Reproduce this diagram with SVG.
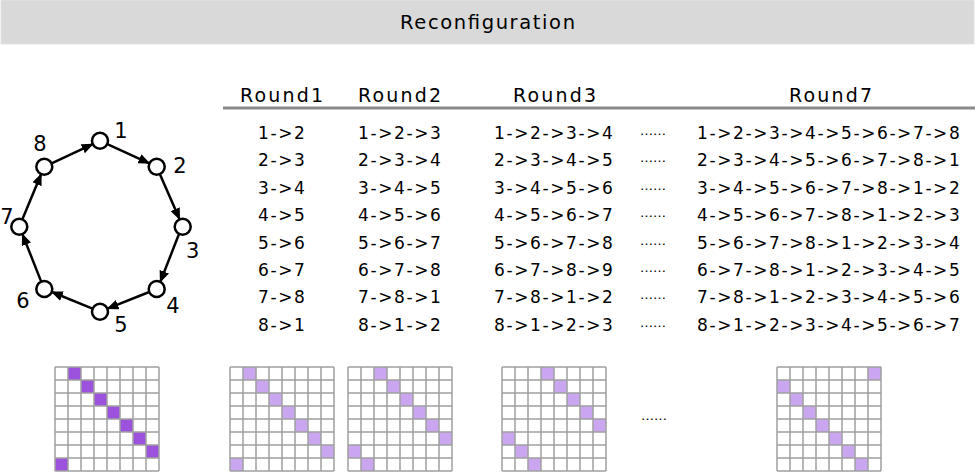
<svg xmlns="http://www.w3.org/2000/svg" xmlns:xlink="http://www.w3.org/1999/xlink" width="976" height="472" viewBox="0 0 976 472">
<style>
text{font-family:"DejaVu Sans",Verdana,sans-serif;fill:#000}
.title{font-size:19.5px}
.hd{font-size:19px}
.row{font-size:17px;letter-spacing:1.6px}
.dots{font-size:13px}
.lbl{font-size:21px;text-anchor:middle}
.node{fill:#fff;stroke:#000;stroke-width:2.5}
.edge{stroke:#000;stroke-width:2.5;fill:none;marker-end:url(#ah)}
.gl{stroke:#a0a0a0;stroke-width:1.5;fill:none}
.dk{fill:#9d52de}
.lt{fill:#caa6f0}
</style>
<defs>
<marker id="ah" viewBox="0 0 12 10" refX="11" refY="5" markerWidth="12" markerHeight="10" markerUnits="userSpaceOnUse" orient="auto">
<path d="M0 0L12 5L0 10z" fill="#000"/>
</marker>
<path id="gridlines" class="gl" d="M0 0V104M13 0V104M26 0V104M39 0V104M52 0V104M65 0V104M78 0V104M91 0V104M104 0V104M0 0H104M0 13H104M0 26H104M0 39H104M0 52H104M0 65H104M0 78H104M0 91H104M0 104H104"/>
</defs>
<rect width="976" height="472" fill="#fff"/>
<g id="header">
<rect x="1" y="0" width="973" height="44" fill="#d9d9d9" stroke="#e4e4e4" stroke-width="1"/>
<text class="title" x="400" y="29" textLength="175" lengthAdjust="spacing">Reconfiguration</text>
</g>
<g id="ring-edges">
<line class="edge" x1="107.3" y1="144.1" x2="149.4" y2="163.3"/>
<line class="edge" x1="159.8" y1="174.1" x2="179.6" y2="219.3"/>
<line class="edge" x1="179.1" y1="233.8" x2="160.3" y2="281.9"/>
<line class="edge" x1="149.2" y1="292" x2="107.5" y2="308.7"/>
<line class="edge" x1="92.5" y1="308.7" x2="51.8" y2="292"/>
<line class="edge" x1="41.2" y1="281.6" x2="22.4" y2="234.1"/>
<line class="edge" x1="22.4" y1="219.3" x2="41.2" y2="174.1"/>
<line class="edge" x1="51.6" y1="163.3" x2="92.7" y2="144.1"/>
</g>
<g id="ring-nodes">
<g id="n1"><circle class="node" cx="100" cy="140.7" r="8"/><text class="lbl" x="121" y="138">1</text></g>
<g id="n2"><circle class="node" cx="156.7" cy="166.7" r="8"/><text class="lbl" x="180" y="173">2</text></g>
<g id="n3"><circle class="node" cx="182.7" cy="226.7" r="8"/><text class="lbl" x="192.7" y="258">3</text></g>
<g id="n4"><circle class="node" cx="156.7" cy="289" r="8"/><text class="lbl" x="173" y="313">4</text></g>
<g id="n5"><circle class="node" cx="100" cy="311.7" r="8"/><text class="lbl" x="121" y="332">5</text></g>
<g id="n6"><circle class="node" cx="44.3" cy="289" r="8"/><text class="lbl" x="23" y="308">6</text></g>
<g id="n7"><circle class="node" cx="19.3" cy="226.7" r="8"/><text class="lbl" x="7" y="224">7</text></g>
<g id="n8"><circle class="node" cx="44.3" cy="166.7" r="8"/><text class="lbl" x="40" y="151">8</text></g>
</g>
<g id="table-header">
<text class="hd" x="240" y="102" textLength="83" lengthAdjust="spacing">Round1</text>
<text class="hd" x="358" y="102" textLength="83" lengthAdjust="spacing">Round2</text>
<text class="hd" x="513" y="102" textLength="83" lengthAdjust="spacing">Round3</text>
<text class="hd" x="789" y="102" textLength="83" lengthAdjust="spacing">Round7</text>
<line x1="223" y1="108" x2="975" y2="108" stroke="#8a8a8a" stroke-width="3"/>
</g>
<g id="col-round1">
<text class="row" x="258" y="139">1-&gt;2</text>
<text class="row" x="258" y="166.4">2-&gt;3</text>
<text class="row" x="258" y="193.8">3-&gt;4</text>
<text class="row" x="258" y="221.2">4-&gt;5</text>
<text class="row" x="258" y="248.6">5-&gt;6</text>
<text class="row" x="258" y="276">6-&gt;7</text>
<text class="row" x="258" y="303.4">7-&gt;8</text>
<text class="row" x="258" y="330.8">8-&gt;1</text>
</g>
<g id="col-round2">
<text class="row" x="358" y="139">1-&gt;2-&gt;3</text>
<text class="row" x="358" y="166.4">2-&gt;3-&gt;4</text>
<text class="row" x="358" y="193.8">3-&gt;4-&gt;5</text>
<text class="row" x="358" y="221.2">4-&gt;5-&gt;6</text>
<text class="row" x="358" y="248.6">5-&gt;6-&gt;7</text>
<text class="row" x="358" y="276">6-&gt;7-&gt;8</text>
<text class="row" x="358" y="303.4">7-&gt;8-&gt;1</text>
<text class="row" x="358" y="330.8">8-&gt;1-&gt;2</text>
</g>
<g id="col-round3">
<text class="row" x="494" y="139">1-&gt;2-&gt;3-&gt;4</text>
<text class="row" x="494" y="166.4">2-&gt;3-&gt;4-&gt;5</text>
<text class="row" x="494" y="193.8">3-&gt;4-&gt;5-&gt;6</text>
<text class="row" x="494" y="221.2">4-&gt;5-&gt;6-&gt;7</text>
<text class="row" x="494" y="248.6">5-&gt;6-&gt;7-&gt;8</text>
<text class="row" x="494" y="276">6-&gt;7-&gt;8-&gt;9</text>
<text class="row" x="494" y="303.4">7-&gt;8-&gt;1-&gt;2</text>
<text class="row" x="494" y="330.8">8-&gt;1-&gt;2-&gt;3</text>
</g>
<g id="col-dots">
<text class="dots" x="640" y="135">……</text>
<text class="dots" x="640" y="162.4">……</text>
<text class="dots" x="640" y="189.8">……</text>
<text class="dots" x="640" y="217.2">……</text>
<text class="dots" x="640" y="244.6">……</text>
<text class="dots" x="640" y="272">……</text>
<text class="dots" x="640" y="299.4">……</text>
<text class="dots" x="640" y="326.8">……</text>
</g>
<g id="col-round7">
<text class="row" x="697" y="139">1-&gt;2-&gt;3-&gt;4-&gt;5-&gt;6-&gt;7-&gt;8</text>
<text class="row" x="697" y="166.4">2-&gt;3-&gt;4-&gt;5-&gt;6-&gt;7-&gt;8-&gt;1</text>
<text class="row" x="697" y="193.8">3-&gt;4-&gt;5-&gt;6-&gt;7-&gt;8-&gt;1-&gt;2</text>
<text class="row" x="697" y="221.2">4-&gt;5-&gt;6-&gt;7-&gt;8-&gt;1-&gt;2-&gt;3</text>
<text class="row" x="697" y="248.6">5-&gt;6-&gt;7-&gt;8-&gt;1-&gt;2-&gt;3-&gt;4</text>
<text class="row" x="697" y="276">6-&gt;7-&gt;8-&gt;1-&gt;2-&gt;3-&gt;4-&gt;5</text>
<text class="row" x="697" y="303.4">7-&gt;8-&gt;1-&gt;2-&gt;3-&gt;4-&gt;5-&gt;6</text>
<text class="row" x="697" y="330.8">8-&gt;1-&gt;2-&gt;3-&gt;4-&gt;5-&gt;6-&gt;7</text>
</g>
<g id="grid1" transform="translate(55,367)">
<rect width="104" height="104" fill="#fff"/>
<rect class="dk" x="13" y="0" width="13" height="13"/><rect class="dk" x="26" y="13" width="13" height="13"/><rect class="dk" x="39" y="26" width="13" height="13"/><rect class="dk" x="52" y="39" width="13" height="13"/><rect class="dk" x="65" y="52" width="13" height="13"/><rect class="dk" x="78" y="65" width="13" height="13"/><rect class="dk" x="91" y="78" width="13" height="13"/><rect class="dk" x="0" y="91" width="13" height="13"/>
<use xlink:href="#gridlines"/>
</g>
<g id="grid2" transform="translate(230,367)">
<rect width="104" height="104" fill="#fff"/>
<rect class="lt" x="13" y="0" width="13" height="13"/><rect class="lt" x="26" y="13" width="13" height="13"/><rect class="lt" x="39" y="26" width="13" height="13"/><rect class="lt" x="52" y="39" width="13" height="13"/><rect class="lt" x="65" y="52" width="13" height="13"/><rect class="lt" x="78" y="65" width="13" height="13"/><rect class="lt" x="91" y="78" width="13" height="13"/><rect class="lt" x="0" y="91" width="13" height="13"/>
<use xlink:href="#gridlines"/>
</g>
<g id="grid3" transform="translate(348,367)">
<rect width="104" height="104" fill="#fff"/>
<rect class="lt" x="26" y="0" width="13" height="13"/><rect class="lt" x="39" y="13" width="13" height="13"/><rect class="lt" x="52" y="26" width="13" height="13"/><rect class="lt" x="65" y="39" width="13" height="13"/><rect class="lt" x="78" y="52" width="13" height="13"/><rect class="lt" x="91" y="65" width="13" height="13"/><rect class="lt" x="0" y="78" width="13" height="13"/><rect class="lt" x="13" y="91" width="13" height="13"/>
<use xlink:href="#gridlines"/>
</g>
<g id="grid4" transform="translate(502,367)">
<rect width="104" height="104" fill="#fff"/>
<rect class="lt" x="39" y="0" width="13" height="13"/><rect class="lt" x="52" y="13" width="13" height="13"/><rect class="lt" x="65" y="26" width="13" height="13"/><rect class="lt" x="78" y="39" width="13" height="13"/><rect class="lt" x="91" y="52" width="13" height="13"/><rect class="lt" x="0" y="65" width="13" height="13"/><rect class="lt" x="13" y="78" width="13" height="13"/><rect class="lt" x="26" y="91" width="13" height="13"/>
<use xlink:href="#gridlines"/>
</g>
<text id="grid-dots" class="dots" x="641" y="420">……</text>
<g id="grid5" transform="translate(777,367)">
<rect width="104" height="104" fill="#fff"/>
<rect class="lt" x="91" y="0" width="13" height="13"/><rect class="lt" x="0" y="13" width="13" height="13"/><rect class="lt" x="13" y="26" width="13" height="13"/><rect class="lt" x="26" y="39" width="13" height="13"/><rect class="lt" x="39" y="52" width="13" height="13"/><rect class="lt" x="52" y="65" width="13" height="13"/><rect class="lt" x="65" y="78" width="13" height="13"/><rect class="lt" x="78" y="91" width="13" height="13"/>
<use xlink:href="#gridlines"/>
</g>
</svg>
